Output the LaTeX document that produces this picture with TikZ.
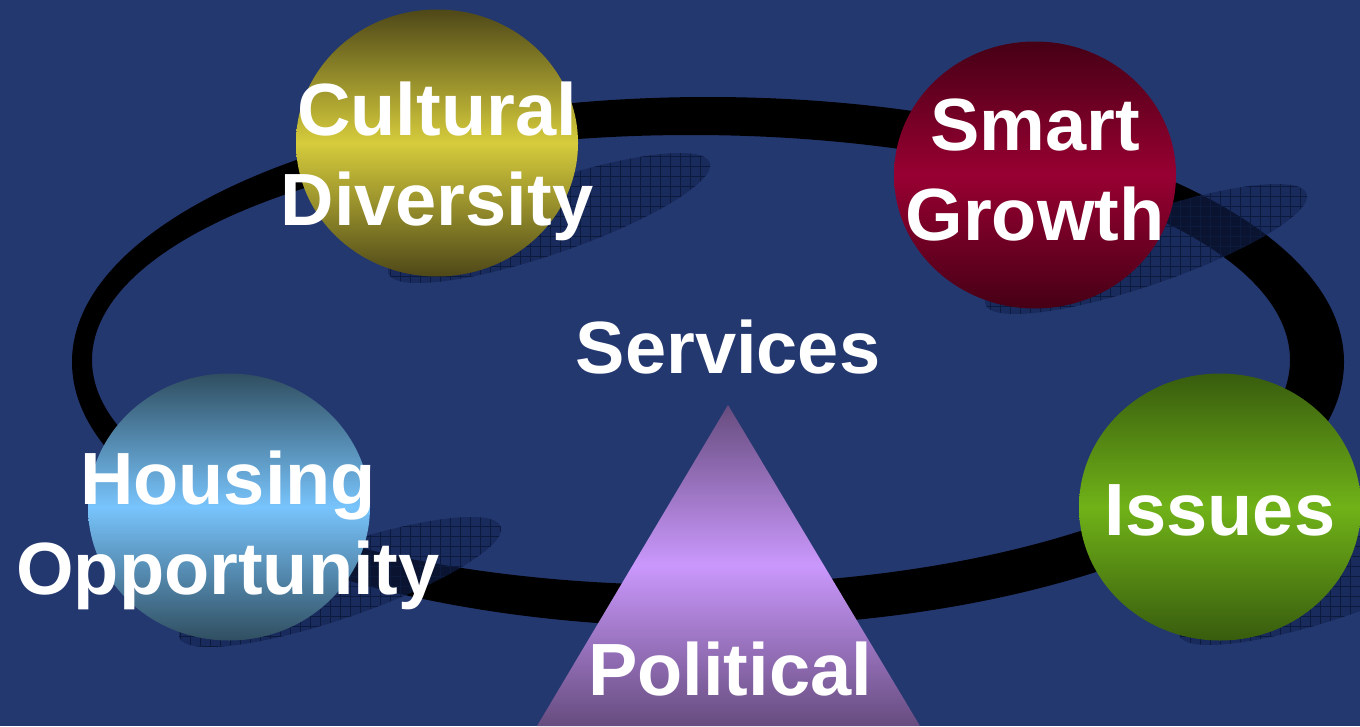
\documentclass[tikz,border=0pt]{standalone}
\usepackage{fontspec}
\setmainfont{Liberation Sans}
\usepackage{tikz}
\usetikzlibrary{shapes.geometric, patterns.meta, positioning}
\definecolor{cBg}{RGB}{36,56,112}
\definecolor{cShadow}{RGB}{18,34,80}
\definecolor{cGrid}{RGB}{12,26,62}
\definecolor{cOliveD}{RGB}{78,72,24}
\definecolor{cOlive}{RGB}{214,204,60}
\definecolor{cRedD}{RGB}{70,0,22}
\definecolor{cRed}{RGB}{152,0,50}
\definecolor{cBlueD}{RGB}{48,78,96}
\definecolor{cBlue}{RGB}{120,196,252}
\definecolor{cGreenD}{RGB}{56,92,14}
\definecolor{cGreen}{RGB}{112,178,24}
\definecolor{cPurpD}{RGB}{102,76,126}
\definecolor{cPurp}{RGB}{202,152,252}

\begin{document}
\begin{tikzpicture}[x=1pt, y=-1pt,
    sphere/.style={ellipse, minimum width=282, minimum height=267, inner sep=0pt},
    word/.style={text=white, font=\fontsize{74}{90}\selectfont\bfseries, align=center, inner sep=0pt},
    castshadow/.style={fill=cShadow, fill opacity=0.6,
        postaction={pattern={Hatch[angle=0, distance=10pt, line width=0.5pt]}, pattern color=cGrid}}]
    % Background
    \fill[cBg] (0,0) rectangle (1360,726);
    \useasboundingbox (0,0) rectangle (1360,726);

    % Ring
    \fill[black, even odd rule] (708,362) ellipse [x radius=636, y radius=265]
        (691,360) ellipse [x radius=599, y radius=225];

    % Shadows
    \fill[castshadow, rotate around={19:(549,218)}] (549,218) ellipse [x radius=170, y radius=36];
    \fill[castshadow, rotate around={19:(1146,249)}] (1146,249) ellipse [x radius=170, y radius=36];
    \fill[castshadow, rotate around={19:(340,582)}] (340,582) ellipse [x radius=170, y radius=36];
    \fill[castshadow, rotate around={19:(1340,580)}] (1340,580) ellipse [x radius=170, y radius=36];

    % Spheres
    \node[sphere, top color=cOliveD, bottom color=cOliveD, middle color=cOlive] (cultural) at (437,143) {};
    \node[sphere, top color=cRedD, bottom color=cRedD, middle color=cRed] (smart) at (1035,175) {};
    \node[sphere, top color=cBlueD, bottom color=cBlueD, middle color=cBlue] (housing) at (229,507) {};
    \node[sphere, top color=cGreenD, bottom color=cGreenD, middle color=cGreen] (issues) at (1220,507) {};

    % Triangle
    \shade[top color=cPurpD, bottom color=cPurpD, middle color=cPurp] (728,405) -- (920,726) -- (537,726) -- cycle;

    % Labels
    \node[word] (culturalText) at (437,161) {Cultural\\Diversity};
    \node[word] (smartText) at (1035,170) {Smart\\Growth};
    \node[word] (housingText) at (228,530) {Housing\\Opportunity};
    \node[word, anchor=base] (issuesText) at (1220,535) {Issues};
    \node[word, anchor=base] (services) at (728,373) {Services};
    \node[word, anchor=base] (political) at (730,695) {Political};
\end{tikzpicture}
\end{document}
